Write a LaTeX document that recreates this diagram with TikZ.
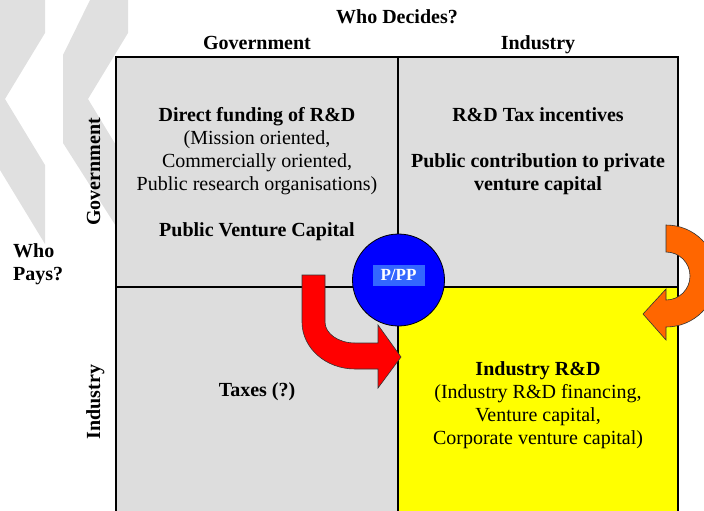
\documentclass[tikz,border=0pt]{standalone}
\usepackage{fontspec}
\setmainfont{Liberation Serif}
\definecolor{cellgray}{HTML}{DDDDDD}
\definecolor{chevgray}{HTML}{E0E0E0}
\definecolor{ppblue}{HTML}{0000FF}
\definecolor{pplight}{HTML}{3366FF}
\definecolor{arrowred}{HTML}{FF0000}
\definecolor{arroworange}{HTML}{FF6600}
\definecolor{rdyellow}{HTML}{FFFF00}

\begin{document}
\begin{tikzpicture}[
x=1pt, y=-1pt,
cell/.style={
  draw,
  line width=1.2pt,
  fill=cellgray,
  inner sep=0pt
  },
bigtext/.style={
  font=\fontsize{20}{23}\selectfont,
  align=center,
  inner sep=0pt
  },
headtext/.style={
  bigtext,
  font=\fontsize{20}{23}\selectfont\bfseries
  },
blockarrow/.style={
  draw=black!80,
  line width=0.6pt
  }
]
\useasboundingbox (0,0) rectangle (704,511);
\fill[chevgray] (0,0) -- (45,0) -- (45,33) -- (5,99) -- (45,165) -- (45,244) -- (0,170) -- cycle;
\fill[chevgray] (90,0) -- (128,0) -- (128,33) -- (88,99) -- (128,165) -- (128,245) -- (63,143) -- (63,55) -- cycle;

\node[cell, minimum width=282pt, minimum height=230pt] (govgov) at (257,172) {};
\node[cell, minimum width=280pt, minimum height=230pt] (govind) at (538,172) {};
\node[cell, minimum width=282pt, minimum height=226pt] (indgov) at (257,400) {};
\node[cell, fill=rdyellow, minimum width=280pt, minimum height=226pt] (indind) at (538,400) {};

\node[headtext, anchor=base] (decides) at (397,24) {Who Decides?};
\node[headtext, anchor=base] (govhead) at (257,50) {Government};
\node[headtext, anchor=base] (indhead) at (538,50) {Industry};
\node[headtext, rotate=90, anchor=base] (govside) at (100,172) {Government};
\node[headtext, rotate=90, anchor=base] (indside) at (100,402) {Industry};
\node[headtext, align=left, anchor=north west] (pays) at (13,243) {Who\\Pays?};

\node[bigtext, anchor=north] (govgovtext) at (257,107) {\textbf{Direct funding of R\&D}\\(Mission oriented,\\Commercially oriented,\\Public research organisations)\\[23pt]\textbf{Public Venture Capital}};
\node[headtext, anchor=north] (govindtext) at (538,107) {R\&D Tax incentives\\[23pt]Public contribution to private\\venture capital};
\node[headtext, anchor=north] (indgovtext) at (257,382) {Taxes (?)};
\node[bigtext, anchor=north] (indindtext) at (538,361) {\textbf{Industry R\&D}\\(Industry R\&D financing,\\Venture capital,\\Corporate venture capital)};

\draw[blockarrow, fill=arrowred] (302,275) -- (302,322)
  .. controls (302,348) and (325.7,369) .. (355,369) -- (378,369) -- (378,388)
  -- (401,357) -- (378,325) -- (378,343) -- (355,343)
  .. controls (338.4,343) and (325,333.6) .. (325,322) -- (325,275) -- cycle;
\draw[blockarrow, fill=arroworange] (666,225)
  .. controls (694.2,225) and (717,247.8) .. (717,276)
  .. controls (717,304.2) and (694.2,327) .. (666,327) -- (666,340)
  -- (643,314) -- (666,289) -- (666,300)
  .. controls (679.3,300) and (690,289.3) .. (690,276)
  .. controls (690,262.7) and (679.3,252) .. (666,252) -- cycle;

\node[circle, draw, line width=0.8pt, fill=ppblue, minimum size=92pt, inner sep=0pt] (pp) at (398.5,280) {};
\node[fill=pplight, text=white, font=\fontsize{17}{20}\selectfont\bfseries, minimum width=52pt, minimum height=21pt, inner sep=0pt, yshift=4.6pt] (pplabel) at (pp.center) {P/PP};
\end{tikzpicture}
\end{document}
